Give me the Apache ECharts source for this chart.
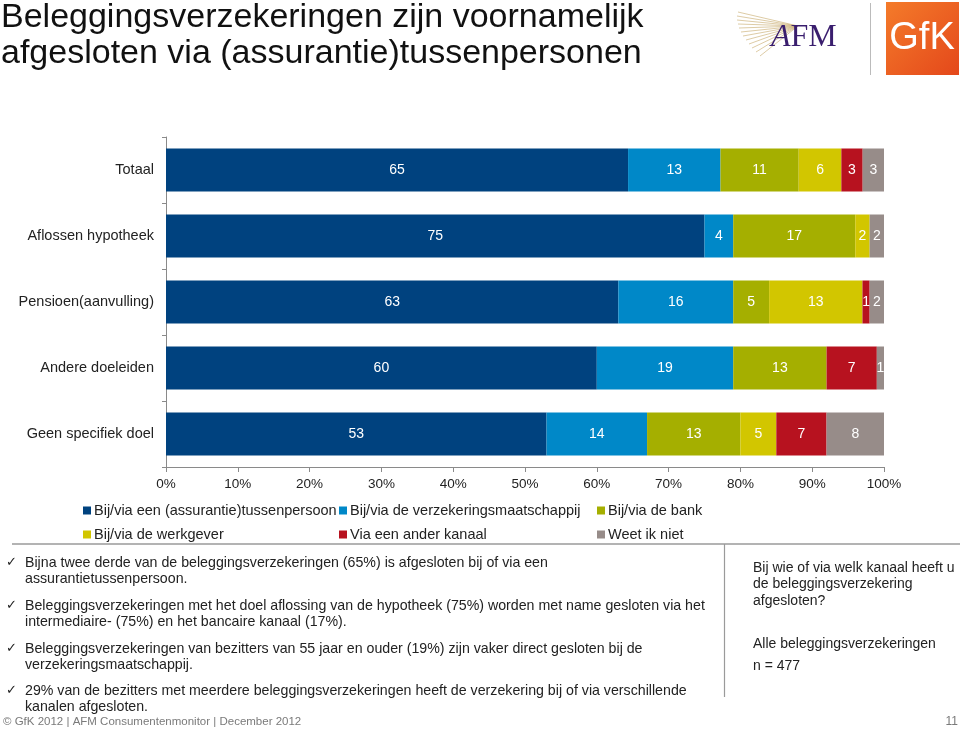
<!DOCTYPE html>
<html><head><meta charset="utf-8">
<script src="https://cdn.jsdelivr.net/npm/echarts@6/dist/echarts.min.js"></script>
<style>html,body{margin:0;padding:0;background:#fff}#c{width:960px;height:732px}</style>
</head><body><div id="c"></div>
<script>
var categories = ['Totaal','Aflossen hypotheek','Pensioen(aanvulling)','Andere doeleiden','Geen specifiek doel'];
var seriesNames = ['Bij/via een (assurantie)tussenpersoon','Bij/via de verzekeringsmaatschappij','Bij/via de bank','Bij/via de werkgever','Via een ander kanaal','Weet ik niet'];
var tussenpersoon = [65,75,63,60,53];
var maatschappij  = [13,4,16,19,14];
var bank          = [11,17,5,13,13];
var werkgever     = [6,2,13,0,5];
var anderKanaal   = [3,0,1,7,7];
var weetNiet      = [3,2,2,1,8];
var xTicks = [0,10,20,30,40,50,60,70,80,90,100];
var colors = ['#00427F','#0088C8','#A5AF00','#D2C600','#B7121F','#978C89'];

var all = [tussenpersoon,maatschappij,bank,werkgever,anderKanaal,weetNiet];
var totals = categories.map(function(_,i){var s=0;all.forEach(function(a){s+=a[i];});return s;});

var FONT = '"Liberation Sans", Arial, sans-serif';
var series = all.map(function(arr,k){
  return {
    name: seriesNames[k], type:'bar', stack:'t', barWidth:43,
    itemStyle:{color:colors[k]},
    label:{show:true, position:'inside', color:'#fff', fontSize:14, fontFamily:FONT,
      formatter:function(p){return p.data.raw ? String(p.data.raw) : '';}},
    data: arr.map(function(v,i){return {value: v/totals[i]*100, raw: v};})
  };
});

var legendPos = [[83,503],[339,503],[597,503],[83,527],[339,527],[597,527]];
var legends = seriesNames.map(function(n,k){
  return {data:[n], left:legendPos[k][0], top:legendPos[k][1], icon:'rect', itemWidth:8, itemHeight:8, itemGap:0,
    padding:0, textStyle:{fontSize:14.5, color:'#222', fontFamily:FONT, padding:[0,0,0,-2]}, selectedMode:false};
});

var bodyLines = [
  ['Bijna twee derde van de beleggingsverzekeringen (65%) is afgesloten bij of via een', 'assurantietussenpersoon.', 563],
  ['Beleggingsverzekeringen met het doel aflossing van de hypotheek (75%) worden met name gesloten via het', 'intermediaire- (75%) en het bancaire kanaal (17%).', 606],
  ['Beleggingsverzekeringen van bezitters van 55 jaar en ouder (19%) zijn vaker direct gesloten bij de', 'verzekeringsmaatschappij.', 649],
  ['29% van de bezitters met meerdere beleggingsverzekeringen heeft de verzekering bij of via verschillende', 'kanalen afgesloten.', 691]
];
var graphics = [];
graphics.push({type:'text', x:1, y:18, style:{text:'Beleggingsverzekeringen zijn voornamelijk', font:'34px '+FONT, fill:'#111', verticalAlign:'middle'}});
graphics.push({type:'text', x:1, y:54, style:{text:'afgesloten via (assurantie)tussenpersonen', font:'34px '+FONT, fill:'#111', verticalAlign:'middle'}});
bodyLines.forEach(function(b){
  graphics.push({type:'text', x:6, y:b[2], style:{text:'\u2713', font:'13px "DejaVu Sans", sans-serif', fill:'#222', verticalAlign:'middle'}});
  graphics.push({type:'text', x:25, y:b[2], style:{text:b[0], font:'14.2px '+FONT, fill:'#222', verticalAlign:'middle'}});
  graphics.push({type:'text', x:25, y:b[2]+16, style:{text:b[1], font:'14.2px '+FONT, fill:'#222', verticalAlign:'middle'}});
});
graphics.push({type:'line', shape:{x1:12,y1:544,x2:960,y2:544}, style:{stroke:'#9a9a9a', lineWidth:1.5}});
graphics.push({type:'line', shape:{x1:724.5,y1:544,x2:724.5,y2:697}, style:{stroke:'#9a9a9a', lineWidth:1.2}});
[['Bij wie of via welk kanaal heeft u',568],['de beleggingsverzekering',584],['afgesloten?',601],['Alle beleggingsverzekeringen',644],['n = 477',666]].forEach(function(t){
  graphics.push({type:'text', x:753, y:t[1], style:{text:t[0], font:'14px '+FONT, fill:'#222', verticalAlign:'middle'}});
});
graphics.push({type:'text', x:3, y:722, style:{text:'\u00A9 GfK 2012 | AFM Consumentenmonitor | December 2012', font:'11.5px '+FONT, fill:'#7a7a7a', verticalAlign:'middle'}});
graphics.push({type:'text', x:958, y:722, style:{text:'11', font:'12px '+FONT, fill:'#7a7a7a', verticalAlign:'middle', align:'right'}});
// AFM logo
var fanEnds = [[738,12],[737,16],[737,20],[738,24],[739,28],[741,32],[743,36],[746,40],[749,44],[752,48],[756,52],[760,56]];
fanEnds.forEach(function(e){
  graphics.push({type:'line', shape:{x1:e[0],y1:e[1],x2:798,y2:26}, style:{stroke:'#CDB27A', lineWidth:0.8, opacity:0.85}});
});
graphics.push({type:'text', x:771, y:54, style:{text:'{a|A}{b|FM}', verticalAlign:'bottom',
  rich:{a:{font:'italic 32px "Liberation Serif", "DejaVu Serif", serif', fill:'#3A1E6E'}, b:{font:'32px "Liberation Serif", "DejaVu Serif", serif', fill:'#3A1E6E'}}}});
graphics.push({type:'line', shape:{x1:870.5,y1:3,x2:870.5,y2:75}, style:{stroke:'#bbbbbb', lineWidth:1}});
graphics.push({type:'rect', shape:{x:886,y:2,width:73,height:73}, style:{fill:{type:'linear',x:0,y:0,x2:1,y2:1,colorStops:[{offset:0,color:'#F47B2A'},{offset:1,color:'#E4481B'}]}}});
graphics.push({type:'text', x:922, y:39, style:{text:'GfK', font:'38px '+FONT, fill:'#fff', align:'center', verticalAlign:'middle'}});

var chart = echarts.init(document.getElementById('c'), null, {renderer:'canvas'});
chart.setOption({
  animation:false,
  color: colors,
  grid:{left:166, right:76, top:137, bottom:265, containLabel:false},
  xAxis:{type:'value', min:0, max:100, interval:10,
    axisLine:{show:true, lineStyle:{color:'#8a8a8a'}},
    axisTick:{show:true, length:5, lineStyle:{color:'#8a8a8a'}},
    splitLine:{show:false},
    axisLabel:{formatter:'{value}%', fontSize:13.5, color:'#222', fontFamily:FONT, margin:10}},
  yAxis:{type:'category', data:categories, inverse:true,
    axisLine:{show:true, lineStyle:{color:'#8a8a8a'}},
    axisTick:{show:true, length:4, lineStyle:{color:'#8a8a8a'}},
    axisLabel:{fontSize:14.5, color:'#222', fontFamily:FONT, margin:12}},
  legend: legends,
  series: series,
  graphic: graphics
});
</script></body></html>
